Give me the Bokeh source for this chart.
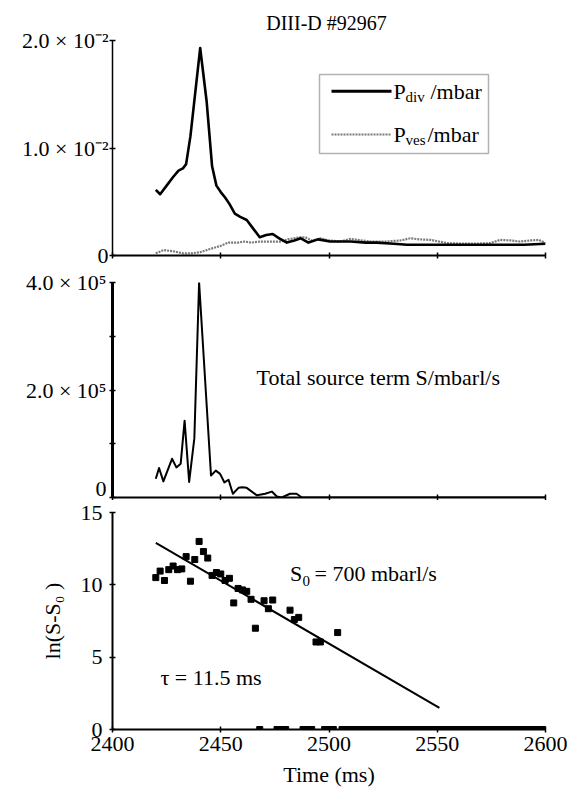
import math
from bokeh.plotting import figure
from bokeh.layouts import column
from bokeh.models import Label, BoxAnnotation, FixedTicker
from bokeh.embed import file_html
from bokeh.resources import INLINE

# ---------------- data ----------------
t_div = [2420, 2422, 2425, 2428, 2430.5, 2432.5, 2434, 2436, 2440.5, 2443.5,
         2446, 2448, 2450, 2452, 2454, 2456.5, 2459, 2462, 2465, 2468,
         2471, 2474, 2477, 2480.5, 2484, 2487, 2490.5, 2495, 2500.5, 2505,
         2510, 2517, 2522, 2530, 2536, 2540, 2550, 2560, 2570, 2580, 2590, 2600]
p_div = [0.0061, 0.0057, 0.0065, 0.0073, 0.0079, 0.0081, 0.0085, 0.0111, 0.0193, 0.0143,
         0.0083, 0.0065, 0.0059, 0.0054, 0.0048, 0.0039, 0.0036, 0.0033, 0.0025, 0.0017,
         0.0019, 0.0020, 0.0016, 0.0012, 0.0014, 0.0016, 0.0012, 0.0015, 0.0013, 0.0013,
         0.0013, 0.0012, 0.0012, 0.0011, 0.0010, 0.0010, 0.0010, 0.0010, 0.0010, 0.0010, 0.0010, 0.0011]

t_ves = [2420, 2423.5, 2428, 2432.5, 2436, 2440.5, 2445, 2450, 2453.5, 2458,
         2461, 2464, 2468, 2473, 2477.5, 2481, 2486.5, 2489, 2492, 2496,
         2500, 2505, 2510, 2515, 2519, 2526, 2533, 2537.5, 2542, 2547,
         2554.5, 2562, 2568, 2574.5, 2579, 2584, 2588, 2593, 2597, 2600]
p_ves = [0.0002, 0.0005, 0.0004, 0.0002, 0.0002, 0.0003, 0.0006, 0.0009, 0.0012, 0.0012,
         0.0013, 0.0012, 0.0013, 0.0013, 0.0013, 0.0015, 0.0017, 0.0017, 0.0014, 0.0016,
         0.0014, 0.0013, 0.00155, 0.0014, 0.0013, 0.0013, 0.0014, 0.0016, 0.0015, 0.00145,
         0.00115, 0.0011, 0.0011, 0.00115, 0.00145, 0.0014, 0.0013, 0.0014, 0.00145, 0.00115]

t_src = [2420, 2421.5, 2423.5, 2427.5, 2429.5, 2431.5, 2433.3, 2435.4, 2437.8, 2440,
         2445.5, 2447.7, 2449.7, 2451.7, 2453.6, 2455.6, 2458.2, 2460, 2462, 2466.7,
         2470.5, 2473.6, 2475.9, 2478.2, 2482, 2485, 2487.5, 2500, 2550, 2600]
s_src = [35e3, 55e3, 30e3, 72e3, 56e3, 63e3, 143e3, 29e3, 110e3, 400e3,
         41e3, 50e3, 44e3, 28e3, 33e3, 7e3, 18e3, 19e3, 18e3, 4e3,
         7e3, 11e3, 2e3, 0, 7e3, 7e3, 0, 0, 0, 0]

t_ln = [2420, 2422, 2424, 2426, 2428, 2430, 2432, 2434, 2436, 2438,
        2440, 2442, 2444, 2446, 2448, 2450, 2452, 2454, 2456, 2458,
        2460, 2462, 2464, 2466, 2468, 2470, 2472, 2474, 2476, 2478,
        2480, 2482, 2484, 2486, 2488, 2490, 2492, 2494, 2496, 2498,
        2500, 2502, 2504, 2506, 2508, 2510, 2512, 2514, 2516, 2518,
        2520, 2522, 2524, 2526, 2528, 2530, 2532, 2534, 2536, 2538,
        2540, 2542, 2544, 2546, 2548, 2550, 2552, 2554, 2556, 2558,
        2560, 2562, 2564, 2566, 2568, 2570, 2572, 2574, 2576, 2578,
        2580, 2582, 2584, 2586, 2588, 2590, 2592, 2594, 2596, 2598, 2600]
ln_s = [10.5, 10.95, 10.3, 11.05, 11.3, 11.05, 11.1, 11.95, 10.25, 11.75,
        13.0, 12.3, 11.85, 10.65, 10.85, 10.75, 10.3, 10.45, 8.75, 9.75,
        9.65, 9.55, 9.0, 7.0, 0, 8.9, 8.35, 8.95, 0, 0,
        0, 8.25, 7.6, 7.75, 0, 0, 0, 6.05, 6.05, 0,
        0, 0, 6.7, 0, 0, 0, 0, 0, 0, 0,
        0, 0, 0, 0, 0, 0, 0, 0, 0, 0,
        0, 0, 0, 0, 0, 0, 0, 0, 0, 0,
        0, 0, 0, 0, 0, 0, 0, 0, 0, 0,
        0, 0, 0, 0, 0, 0, 0, 0, 0, 0, 0]

fit_t = [2420, 2551]
fit_ln = [12.9, 1.5]

x_ticks = [2400, 2450, 2500, 2550, 2600]
top_ticks = [0, 0.01, 0.02]
top_labels = ["0", "1.0 × 10⁻²", "2.0 × 10⁻²"]
mid_ticks = [0, 1e5, 2e5, 3e5, 4e5]
mid_labels = ["0", "", "2.0 × 10⁵", "", "4.0 × 10⁵"]
bot_ticks = [0, 5, 10, 15]

# ---------------- layout helpers ----------------
FONT = "Liberation Serif"
FL, FW = 112, 433          # frame left / width in page pixels
X0, X1 = 2400, 2600


def px2x(px):
    return X0 + (px - FL) / FW * (X1 - X0)


def mk_py(top, bottom, y0, y1):
    return lambda py: y0 + (bottom - py) / (bottom - top) * (y1 - y0)


def make_fig(y0, y1, fh, bt, bb, yticks):
    p = figure(x_range=(X0, X1), y_range=(y0, y1), frame_width=FW, frame_height=fh,
               min_border_left=FL, min_border_right=42, min_border_top=bt,
               min_border_bottom=bb, output_backend="svg", toolbar_location=None,
               background_fill_color="white", border_fill_color="white",
               outline_line_color=None)
    p.grid.visible = False
    p.xaxis.ticker = FixedTicker(ticks=x_ticks)
    p.yaxis.ticker = FixedTicker(ticks=yticks)
    for ax in (p.xaxis[0], p.yaxis[0]):
        ax.axis_line_color = "black"
        ax.axis_line_width = 2
        ax.major_tick_line_color = "black"
        ax.major_tick_line_width = 1.5
        ax.major_tick_in = 3
        ax.major_tick_out = 3
        ax.minor_tick_line_color = None
        ax.major_label_text_font = FONT
        ax.major_label_text_color = "black"
        ax.major_label_text_font_size = "22px"
        ax.axis_label_text_font = FONT
        ax.axis_label_text_font_style = "normal"
        ax.axis_label_text_font_size = "22px"
        ax.axis_label_text_color = "black"
    return p


def hide_x_labels(ax):
    ax.major_label_overrides = {t: "" for t in x_ticks}
    ax.major_label_text_font_size = "0px"
    ax.major_label_standoff = 0


def lab(p, x, y, text, size=22, align="left"):
    p.add_layout(Label(x=x, y=y, text=text, text_font=FONT, text_font_size=f"{size}px",
                       text_align=align, text_baseline="middle", text_color="black"))


# ---------------- panel 1 ----------------
p1 = make_fig(0, 0.02, 215, 40, 12, top_ticks)
hide_x_labels(p1.xaxis[0])
p1.yaxis[0].axis_line_width = 1.5
p1.yaxis[0].major_label_overrides = dict(zip(top_ticks, top_labels))
p1.yaxis[0].major_label_standoff = 1
py1 = mk_py(40, 255, 0, 0.02)

p1.title.text = "DIII-D  #92967"
p1.title.align = "center"
p1.title.text_font = FONT
p1.title.text_font_style = "normal"
p1.title.text_font_size = "20px"
p1.title.text_color = "black"
p1.title.standoff = 14
p1.title.offset = -8

p1.line(t_ves, p_ves, line_color="#7a7a7a", line_width=2.2, line_dash="2 1")
p1.line(t_div, p_div, line_color="black", line_width=2.6, line_join="round")

p1.add_layout(BoxAnnotation(left=px2x(319), right=px2x(488), top=py1(74), bottom=py1(153),
                            fill_color=None, line_color="black", line_width=1.5))
p1.line([px2x(331), px2x(391)], [py1(90.7), py1(90.7)], line_color="black", line_width=3)
p1.line([px2x(331), px2x(391)], [py1(134), py1(134)], line_color="#7a7a7a",
        line_width=2.2, line_dash="2 1")
lab(p1, px2x(393), py1(90.7), "P")
lab(p1, px2x(405), py1(96), "div", size=15)
lab(p1, px2x(430), py1(90.7), "/mbar")
lab(p1, px2x(393), py1(134), "P")
lab(p1, px2x(405), py1(139.5), "ves", size=15)
lab(p1, px2x(427), py1(134), "/mbar")

# ---------------- panel 2 ----------------
p2 = make_fig(0, 4e5, 215, 15, 3, mid_ticks)
hide_x_labels(p2.xaxis[0])
p2.yaxis[0].axis_line_width = 3
p2.yaxis[0].major_label_overrides = dict(zip(mid_ticks, mid_labels))
p2.yaxis[0].major_label_standoff = 3
py2 = mk_py(282, 497, 0, 4e5)

p2.line(t_src, s_src, line_color="black", line_width=2, line_join="round")
lab(p2, px2x(256), py2(377), "Total source term S/mbarl/s")

# ---------------- panel 3 ----------------
p3 = make_fig(0, 15, 217, 12, 64, bot_ticks)
p3.xaxis[0].major_label_standoff = 4
p3.xaxis[0].axis_label = "Time (ms)"
p3.xaxis[0].axis_label_standoff = 8
p3.yaxis[0].major_label_standoff = 7
p3.yaxis[0].axis_label = "ln(S-S₀ )"
p3.yaxis[0].axis_label_standoff = 13
py3 = mk_py(512, 729, 0, 15)

p3.line(fit_t, fit_ln, line_color="black", line_width=2)
p3.scatter(t_ln, ln_s, marker="square", size=6, color="black")

lab(p3, px2x(289.5), py3(573), "S")
lab(p3, px2x(302), py3(580), "0", size=15)
lab(p3, px2x(314), py3(573), "= 700 mbarl/s")
lab(p3, px2x(160), py3(677), "τ = 11.5 ms")

layout = column(p1, p2, p3)
open("out.html", "w").write(file_html(layout, INLINE))
